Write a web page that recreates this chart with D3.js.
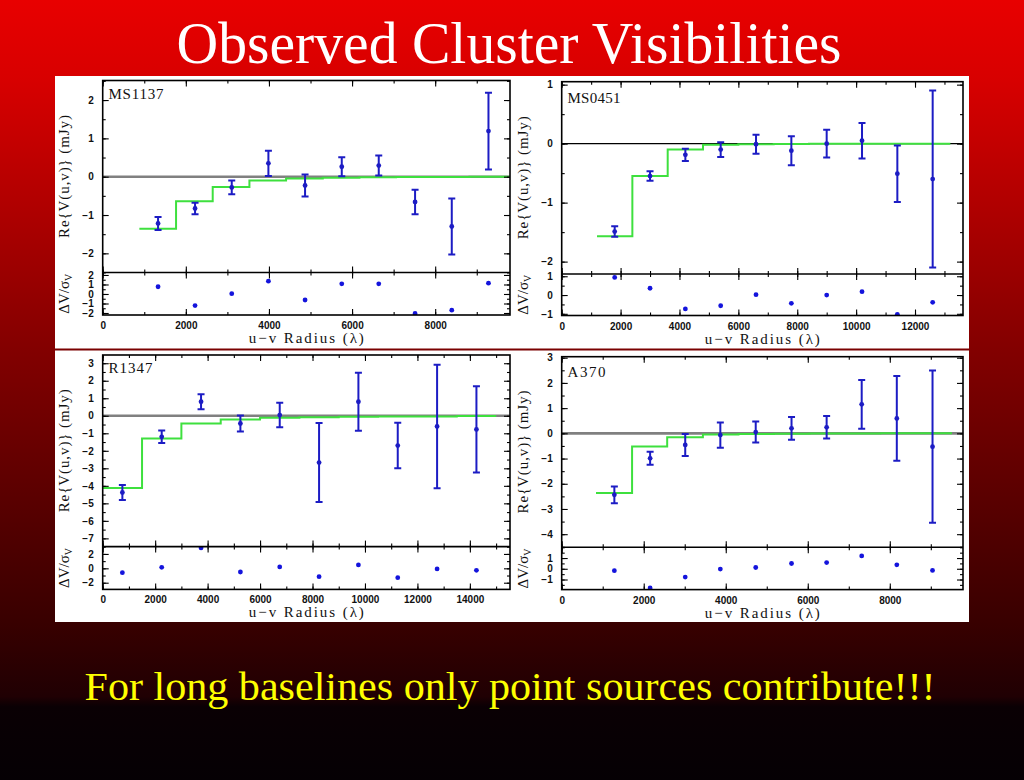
<!DOCTYPE html>
<html><head><meta charset="utf-8">
<script src="https://cdn.jsdelivr.net/npm/d3@7"></script>
<style>html,body{margin:0;padding:0;background:#000;overflow:hidden}</style>
</head><body><svg id="c" width="1024" height="780"></svg>
<script>
// ---------------- DATA ----------------
const titleText = "Observed Cluster Visibilities";
const footText = "For long baselines only point sources contribute!!!";
const panelNames = ["MS1137", "MS0451", "R1347", "A370"];

// MS1137
const ms1137_x = [1332, 2222, 3105, 3987, 4869, 5752, 6642, 7516, 8399, 9282];
const ms1137_v = [-1.22, -0.83, -0.28, 0.35, -0.23, 0.26, 0.29, -0.66, -1.30, 1.19];
const ms1137_e = [0.17, 0.15, 0.18, 0.33, 0.29, 0.25, 0.26, 0.32, 0.73, 1.00];
const ms1137_res = [0.76, -1.22, 0.03, 1.35, -0.63, 1.07, 1.07, -2.05, -1.70, 1.14];
const ms1137_edges = [882, 1765, 2647, 3530, 4412, 5295, 6177, 7060, 7942, 8825, 9800];
const ms1137_model = [-1.36, -0.64, -0.27, -0.10, -0.05, -0.03, -0.015, -0.01, -0.005, 0];
const ms1137_xTicks = [0, 2000, 4000, 6000, 8000];
const ms1137_yTicks = [-2, -1, 0, 1, 2];
const ms1137_rTicks = [-2, -1, 0, 1, 2];

// MS0451
const ms0451_x = [1800, 3000, 4200, 5400, 6600, 7800, 9000, 10200, 11400, 12600];
const ms0451_v = [-1.49, -0.55, -0.19, -0.10, -0.01, -0.12, 0.00, 0.05, -0.51, -0.60];
const ms0451_e = [0.09, 0.08, 0.105, 0.125, 0.16, 0.245, 0.235, 0.30, 0.48, 1.50];
const ms0451_res = [0.94, 0.36, -0.74, -0.57, 0.02, -0.44, 0.00, 0.18, -1.03, -0.39];
const ms0451_edges = [1200, 2400, 3600, 4800, 6000, 7200, 8400, 9600, 10800, 12000, 13200];
const ms0451_model = [-1.57, -0.55, -0.10, -0.02, -0.01, -0.005, 0, 0, 0, 0];
const ms0451_xTicks = [0, 2000, 4000, 6000, 8000, 10000, 12000];
const ms0451_yTicks = [-2, -1, 0, 1];
const ms0451_rTicks = [-1, 0, 1];

// R1347
const r1347_x = [750, 2250, 3750, 5250, 6750, 8250, 9750, 11250, 12750, 14250];
const r1347_v = [-4.38, -1.20, 0.80, -0.44, 0.04, -2.67, 0.80, -1.70, -0.61, -0.78];
const r1347_e = [0.43, 0.36, 0.43, 0.46, 0.70, 2.26, 1.66, 1.30, 3.53, 2.46];
const r1347_res = [-0.60, 0.14, 2.84, -0.51, 0.19, -1.16, 0.47, -1.30, -0.09, -0.28];
const r1347_edges = [0, 1500, 3000, 4500, 6000, 7500, 9000, 10500, 12000, 13500, 15000];
const r1347_model = [-4.12, -1.30, -0.44, -0.21, -0.12, -0.08, -0.05, -0.04, -0.04, -0.01];
const r1347_xTicks = [0, 2000, 4000, 6000, 8000, 10000, 12000, 14000];
const r1347_yTicks = [-7, -6, -5, -4, -3, -2, -1, 0, 1, 2, 3];
const r1347_rTicks = [-2, 0, 2];

// A370
const a370_x = [1284, 2156, 3012, 3868, 4731, 5604, 6460, 7315, 8171, 9042];
const a370_v = [-2.44, -0.99, -0.46, -0.07, 0.05, 0.20, 0.24, 1.15, 0.59, -0.53];
const a370_e = [0.33, 0.26, 0.435, 0.505, 0.415, 0.45, 0.445, 0.97, 1.68, 3.02];
const a370_res = [-0.18, -1.78, -0.77, -0.03, 0.12, 0.49, 0.58, 1.20, 0.37, -0.15];
const a370_edges = [836, 1716, 2572, 3443, 4310, 5175, 6040, 6905, 7770, 8635, 9516];
const a370_model = [-2.37, -0.52, -0.15, -0.05, -0.03, -0.02, -0.01, -0.01, 0, 0];
const a370_xTicks = [0, 2000, 4000, 6000, 8000];
const a370_yTicks = [-4, -3, -2, -1, 0, 1, 2, 3];
const a370_rTicks = [-1, 0, 1];

// ---------------- LAYOUT ----------------
const panels = [
  {name: panelNames[0], x: ms1137_x, v: ms1137_v, e: ms1137_e, r: ms1137_res, edges: ms1137_edges, model: ms1137_model,
   xT: ms1137_xTicks, yT: ms1137_yTicks, rT: ms1137_rTicks, xMin: 1000, yMin: 0.5, rMin: 0.5,
   left: 102.7, right: 510, top: 80.5, mid: 272.5, bottom: 315,
   xDom: [0, 9800], yDom: [-2.5, 2.51], rDom: [-2.21, 2.26], zero: "gray", labDy: 18.5, labW: 55},
  {name: panelNames[1], x: ms0451_x, v: ms0451_v, e: ms0451_e, r: ms0451_res, edges: ms0451_edges, model: ms0451_model,
   xT: ms0451_xTicks, yT: ms0451_yTicks, rT: ms0451_rTicks, xMin: 1000, yMin: 0.5, rMin: 0.5,
   left: 561.7, right: 963, top: 81.7, mid: 274, bottom: 315.5,
   xDom: [0, 13630], yDom: [-2.21, 1.05], rDom: [-1.09, 1.12], zero: "black", labDy: 21, labW: 53},
  {name: panelNames[2], x: r1347_x, v: r1347_v, e: r1347_e, r: r1347_res, edges: r1347_edges, model: r1347_model,
   xT: r1347_xTicks, yT: r1347_yTicks, rT: r1347_rTicks, xMin: 1000, yMin: 0.5, rMin: 1,
   left: 102.7, right: 510, top: 355, mid: 546.6, bottom: 589.4,
   xDom: [0, 15530], yDom: [-7.47, 3.47], rDom: [-2.93, 3.02], zero: "gray", labDy: 17.7, labW: 44},
  {name: panelNames[3], x: a370_x, v: a370_v, e: a370_e, r: a370_res, edges: a370_edges, model: a370_model,
   xT: a370_xTicks, yT: a370_yTicks, rT: a370_rTicks, xMin: 1000, yMin: 0.5, rMin: 0.5,
   left: 561.7, right: 963, top: 356.7, mid: 547.3, bottom: 589.6,
   xDom: [0, 9785], yDom: [-4.52, 3.04], rDom: [-1.94, 2.0], zero: "gray", labDy: 20, labW: 38}
];

const W = 1024, H = 780;
const svg = d3.select("#c");
const defs = svg.append("defs");
const grad = defs.append("linearGradient").attr("id", "bg")
  .attr("x1", 0).attr("y1", 0).attr("x2", 0).attr("y2", 1);
[[0, "#e80000"], [0.1, "#d80000"], [0.45, "#820000"], [0.8, "#380000"],
 [0.893, "#200003"], [0.906, "#0a0004"], [1, "#050004"]]
  .forEach(s => grad.append("stop").attr("offset", s[0]).attr("stop-color", s[1]));
svg.append("rect").attr("width", W).attr("height", H).attr("fill", "url(#bg)");

svg.append("text").text(titleText)
  .attr("x", 509).attr("y", 63).attr("text-anchor", "middle")
  .attr("font-family", "Liberation Serif").attr("font-size", 60)
  .attr("textLength", 665).attr("lengthAdjust", "spacingAndGlyphs")
  .attr("fill", "#ffffff");

svg.append("rect").attr("x", 55).attr("y", 76).attr("width", 914).attr("height", 546).attr("fill", "#ffffff");
svg.append("line").attr("x1", 55).attr("x2", 969).attr("y1", 349.5).attr("y2", 349.5)
  .attr("stroke", "#7a0000").attr("stroke-width", 2);

const fmt = d3.format("d");
const BLUE = "#1c1cc4", GREEN = "#3ee03e";

function range(dom, step) {
  const a = Math.ceil(dom[0] / step - 1e-9) * step;
  return d3.range(a, dom[1] + 1e-9, step);
}

function drawPanel(p, i) {
  const g = svg.append("g");
  const x = d3.scaleLinear().domain(p.xDom).range([p.left, p.right]);
  const y = d3.scaleLinear().domain(p.yDom).range([p.mid, p.top]);
  const r = d3.scaleLinear().domain(p.rDom).range([p.bottom, p.mid]);

  defs.append("clipPath").attr("id", "cm" + i).append("rect")
    .attr("x", p.left).attr("y", p.top).attr("width", p.right - p.left).attr("height", p.mid - p.top);
  defs.append("clipPath").attr("id", "cr" + i).append("rect")
    .attr("x", p.left).attr("y", p.mid).attr("width", p.right - p.left).attr("height", p.bottom - p.mid);

  const gm = g.append("g").attr("clip-path", `url(#cm${i})`);
  const gr = g.append("g").attr("clip-path", `url(#cr${i})`);

  // zero line
  gm.append("line").attr("x1", x(p.xDom[0])).attr("x2", x(p.xDom[1]))
    .attr("y1", y(0)).attr("y2", y(0))
    .attr("stroke", p.zero === "gray" ? "#808080" : "#000")
    .attr("stroke-width", p.zero === "gray" ? 2.6 : 1.2);

  // model step
  const stepPts = p.edges.map((ed, k) => ({u: ed, m: p.model[Math.min(k, p.model.length - 1)]}));
  gm.append("path").datum(stepPts)
    .attr("d", d3.line().x(d => x(d.u)).y(d => y(d.m)).curve(d3.curveStepAfter))
    .attr("fill", "none").attr("stroke", GREEN).attr("stroke-width", 2);

  // error bars
  const pts = p.x.map((u, k) => ({u, v: p.v[k], e: p.e[k], r: p.r[k]}));
  const eb = gm.selectAll("g.eb").data(pts).join("g").attr("stroke", BLUE).attr("stroke-width", 2);
  eb.append("line").attr("x1", d => x(d.u)).attr("x2", d => x(d.u))
    .attr("y1", d => y(d.v + d.e)).attr("y2", d => y(d.v - d.e));
  eb.append("line").attr("x1", d => x(d.u) - 3.5).attr("x2", d => x(d.u) + 3.5)
    .attr("y1", d => y(d.v + d.e)).attr("y2", d => y(d.v + d.e));
  eb.append("line").attr("x1", d => x(d.u) - 3.5).attr("x2", d => x(d.u) + 3.5)
    .attr("y1", d => y(d.v - d.e)).attr("y2", d => y(d.v - d.e));
  gm.selectAll("circle").data(pts).join("circle")
    .attr("cx", d => x(d.u)).attr("cy", d => y(d.v)).attr("r", 2.4).attr("fill", BLUE);

  // residuals
  gr.selectAll("circle").data(pts).join("circle")
    .attr("cx", d => x(d.u)).attr("cy", d => r(d.r)).attr("r", 2.4).attr("fill", "#1414dc");

  // axes
  function ax(gen, tx, ty, vals, size, labels, pad) {
    const a = g.append("g").attr("transform", `translate(${tx},${ty})`)
      .call(gen.tickValues(vals).tickSize(-size).tickPadding(pad || 3)
        .tickFormat(labels ? fmt : () => ""));
    a.select(".domain").remove();
    a.selectAll("line").attr("stroke", "#000").attr("stroke-width", 1.1);
    a.selectAll("text").attr("font-family", "Liberation Sans").attr("font-size", 10)
      .attr("font-weight", "bold").attr("fill", "#111");
    return a;
  }
  const xMinor = range(p.xDom, p.xMin), yMinor = range(p.yDom, p.yMin), rMinor = range(p.rDom, p.rMin);
  // main panel
  ax(d3.axisLeft(y), p.left, 0, p.yT, 6, true, 9);
  ax(d3.axisLeft(y), p.left, 0, yMinor, 3, false);
  ax(d3.axisRight(y), p.right, 0, p.yT, 6, false);
  ax(d3.axisRight(y), p.right, 0, yMinor, 3, false);
  ax(d3.axisTop(x), 0, p.top, p.xT, 6, false);
  ax(d3.axisTop(x), 0, p.top, xMinor, 3, false);
  ax(d3.axisBottom(x), 0, p.mid, p.xT, 6, false);
  ax(d3.axisBottom(x), 0, p.mid, xMinor, 3, false);
  // residual panel
  ax(d3.axisLeft(r), p.left, 0, p.rT, 6, true, 9);
  ax(d3.axisLeft(r), p.left, 0, rMinor, 3, false);
  ax(d3.axisRight(r), p.right, 0, p.rT, 6, false);
  ax(d3.axisRight(r), p.right, 0, rMinor, 3, false);
  ax(d3.axisTop(x), 0, p.mid, p.xT, 6, false);
  ax(d3.axisTop(x), 0, p.mid, xMinor, 3, false);
  ax(d3.axisBottom(x), 0, p.bottom, p.xT, 6, true, 7);
  ax(d3.axisBottom(x), 0, p.bottom, xMinor, 3, false);

  // frames
  g.append("rect").attr("x", p.left).attr("y", p.top).attr("width", p.right - p.left).attr("height", p.bottom - p.top)
    .attr("fill", "none").attr("stroke", "#000").attr("stroke-width", 1.6);
  g.append("line").attr("x1", p.left).attr("x2", p.right).attr("y1", p.mid).attr("y2", p.mid)
    .attr("stroke", "#000").attr("stroke-width", 1.6);

  // labels
  g.append("text").text(p.name).attr("x", p.left + 5.8).attr("y", p.top + p.labDy)
    .attr("font-family", "Liberation Serif").attr("font-size", 15)
    .attr("textLength", p.labW).attr("fill", "#111");
  g.append("text").text("Re{V(u,v)} (mJy)")
    .attr("transform", `translate(${p.left - 34},${(p.top + p.mid) / 2}) rotate(-90)`)
    .attr("text-anchor", "middle").attr("font-family", "Liberation Serif").attr("font-size", 15)
    .attr("textLength", 123).attr("fill", "#111");
  const rt = g.append("text")
    .attr("transform", `translate(${p.left - 34},${(p.mid + p.bottom) / 2}) rotate(-90)`)
    .attr("text-anchor", "middle").attr("font-family", "Liberation Serif").attr("font-size", 15)
    .attr("fill", "#111");
  rt.append("tspan").text("ΔV/σ");
  rt.append("tspan").text("V").attr("font-size", 10).attr("dy", 3);
  g.append("text").text("u\u2212v Radius (\u03bb)")
    .attr("x", (p.left + p.right) / 2).attr("y", p.bottom + 28)
    .attr("text-anchor", "middle").attr("font-family", "Liberation Serif").attr("font-size", 15)
    .attr("textLength", 115).attr("fill", "#111");
}
panels.forEach(drawPanel);

svg.append("text").text(footText)
  .attr("x", 510).attr("y", 700).attr("text-anchor", "middle")
  .attr("font-family", "Liberation Serif").attr("font-size", 40)
  .attr("textLength", 851).attr("lengthAdjust", "spacingAndGlyphs")
  .attr("fill", "#ffff00");
</script>
</body></html>
